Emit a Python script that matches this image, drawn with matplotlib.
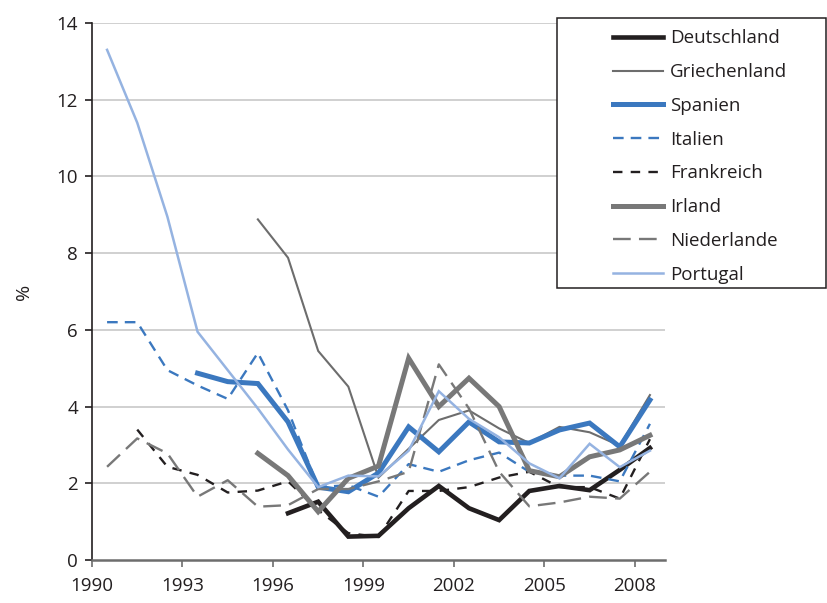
import numpy as np
import matplotlib
matplotlib.use("Agg")
import matplotlib.pyplot as plt
from matplotlib.patches import Rectangle

plt.rcParams["font.family"] = ["Open Sans", "DejaVu Sans"]

nan = np.nan
years = list(range(1990, 2009))

deutschland = [nan, nan, nan, nan, nan, nan, 1.22, 1.52, 0.61, 0.63, 1.35, 1.93,
               1.35, 1.04, 1.8, 1.93, 1.82, 2.35, 2.92]
griechenland = [nan, nan, nan, nan, nan, 8.88, 7.88, 5.45, 4.52, 2.15, 2.9, 3.65,
                3.9, 3.43, 3.05, 3.47, 3.33, 2.98, 4.3]
spanien = [nan, nan, nan, 4.87, 4.65, 4.6, 3.6, 1.9, 1.78, 2.27, 3.47, 2.82,
           3.6, 3.08, 3.05, 3.39, 3.57, 2.95, 4.17]
italien = [6.2, 6.2, 4.95, 4.55, 4.2, 5.4, 3.9, 1.9, 1.95, 1.65, 2.5, 2.3,
           2.6, 2.8, 2.3, 2.2, 2.2, 2.05, 3.55]
frankreich = [nan, 3.4, 2.43, 2.22, 1.76, 1.81, 2.05, 1.3, 0.7, 0.6, 1.8, 1.8,
              1.9, 2.15, 2.3, 1.9, 1.9, 1.6, 3.15]
irland = [nan, nan, nan, nan, nan, 2.78, 2.2, 1.26, 2.13, 2.45, 5.26, 4.0,
          4.74, 4.0, 2.33, 2.17, 2.69, 2.87, 3.25]
niederlande = [2.43, 3.17, 2.78, 1.65, 2.08, 1.39, 1.43, 1.85, 1.85, 2.05, 2.3, 5.1,
               3.95, 2.3, 1.4, 1.5, 1.65, 1.6, 2.3]
portugal = [13.3, 11.4, 8.95, 5.95, 4.95, 3.95, 2.88, 1.9, 2.2, 2.18, 2.85, 4.4,
            3.68, 3.2, 2.52, 2.13, 3.03, 2.42, 2.85]

tick_years = [1990, 1993, 1996, 1999, 2002, 2005, 2008]

series = [
    ("Deutschland", deutschland, dict(color="#231f20", lw=3.3, ls="-")),
    ("Griechenland", griechenland, dict(color="#6d6d6d", lw=1.5, ls="-")),
    ("Spanien", spanien, dict(color="#3b78bf", lw=3.6, ls="-")),
    ("Italien", italien, dict(color="#3b78bf", lw=1.7, ls=(0, (4.5, 3)))),
    ("Frankreich", frankreich, dict(color="#231f20", lw=1.7, ls=(0, (4, 3.5)))),
    ("Irland", irland, dict(color="#787878", lw=3.6, ls="-")),
    ("Niederlande", niederlande, dict(color="#787878", lw=1.7, ls=(0, (7.5, 3.5)))),
    ("Portugal", portugal, dict(color="#95b3e1", lw=1.8, ls="-")),
]

W, H = 827, 603
fig = plt.figure(figsize=(W / 100, H / 100), dpi=100)
ax = fig.add_axes([92 / W, 1 - 560 / H, (665 - 92) / W, (560 - 23) / H])

# data sits in the middle of each year slot, labels on slot boundaries
x = np.array(years) + 0.5
for name, vals, st in series:
    ax.plot(x, vals, label=name, solid_joinstyle="miter", **st)

ax.set_xlim(1990, 2009)
ax.set_ylim(0, 14)
ax.set_yticks(range(0, 15, 2))
ax.set_xticks(tick_years)
ax.set_xticklabels([str(t) for t in tick_years])

for yv in range(2, 15, 2):
    ax.axhline(yv, color="#c4c4c4", lw=1.1, zorder=0)

for s in ["top", "right"]:
    ax.spines[s].set_visible(False)
ax.spines["left"].set_color("#231f20")
ax.spines["left"].set_linewidth(1.2)
ax.spines["bottom"].set_color("#6d6d6d")
ax.spines["bottom"].set_linewidth(1.8)
ax.spines["bottom"].set_zorder(5)

ax.tick_params(axis="y", length=5, width=1.2, color="#231f20", labelsize=13.5,
               labelcolor="#231f20", pad=5)
ax.tick_params(axis="x", length=5, width=1.2, color="#6d6d6d", labelsize=13.5,
               labelcolor="#231f20", pad=7)

ax.set_ylabel("%", fontsize=14, color="#231f20", labelpad=17)

# legend box
fig.patches.append(Rectangle((557 / W, 1 - 288 / H), (826 - 557) / W, (288 - 18) / H,
                             transform=fig.transFigure, fill=True, facecolor="white",
                             edgecolor="#231f20", lw=1.1, zorder=10))
leg = fig.legend(loc="upper left", bbox_to_anchor=(604 / W, 1 - 20 / H),
                 frameon=False, borderpad=0, handlelength=2.65, handletextpad=0.35,
                 labelspacing=0.84, fontsize=13.5)
leg.set_zorder(11)
for t in leg.get_texts():
    t.set_color("#231f20")

fig.savefig("out.png", dpi=100)
